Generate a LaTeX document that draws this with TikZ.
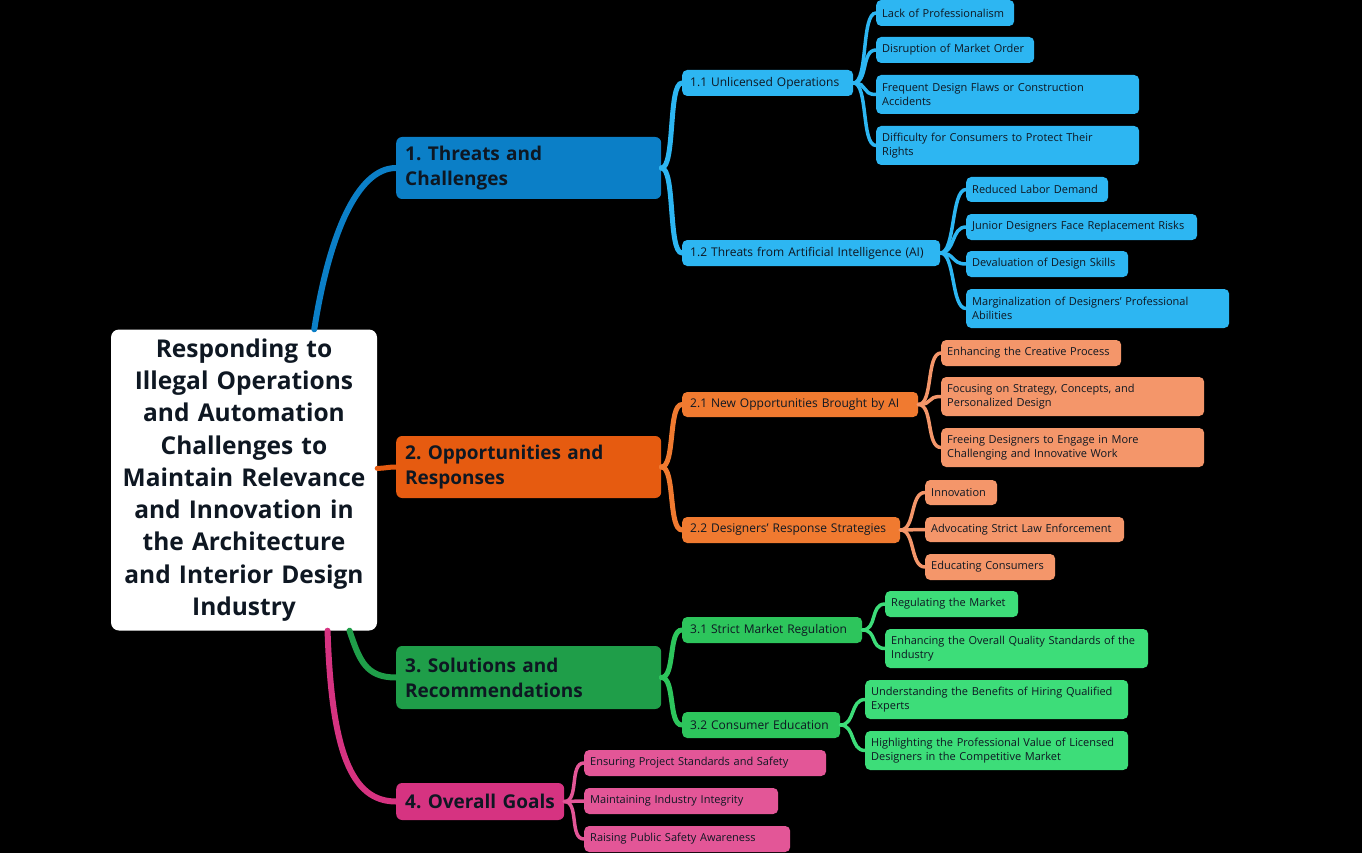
\documentclass[tikz,border=0pt]{standalone}
\usepackage{fontspec}
\setmainfont{Open Sans}
\usetikzlibrary{positioning}
\definecolor{bluedark}{HTML}{0B7FC7}
\definecolor{bluelight}{HTML}{2DB6F2}
\definecolor{orangedark}{HTML}{E65B10}
\definecolor{orangemid}{HTML}{F07A30}
\definecolor{orangelight}{HTML}{F4966A}
\definecolor{greendark}{HTML}{1F9E49}
\definecolor{greenmid}{HTML}{2DC55C}
\definecolor{greenlight}{HTML}{3DDD79}
\definecolor{pinkdark}{HTML}{D63381}
\definecolor{pinklight}{HTML}{E35697}
\definecolor{inkdark}{HTML}{0E1722}

\begin{document}
\frenchspacing
\hyphenpenalty=10000
\begin{tikzpicture}[x=1pt, y=-1pt,
    rootbox/.style={fill=white, rounded corners=8pt, align=center, text=inkdark,
      font=\fontsize{24.5}{32.3}\selectfont\bfseries, inner sep=0pt},
    mainbox/.style={fill=#1, rounded corners=6pt, anchor=west, align=left, text=inkdark,
      inner xsep=9pt, inner ysep=2pt, font=\fontsize{19}{25}\selectfont\bfseries},
    subbox/.style={fill=#1, rounded corners=5pt, anchor=west, align=left, text=inkdark,
      inner xsep=8pt, inner ysep=2pt, minimum height=26pt, font=\fontsize{12}{15}\selectfont},
    leafbox/.style={fill=#1, rounded corners=5pt, anchor=west, align=left, text=inkdark,
      inner xsep=6pt, inner ysep=2pt, minimum height=26pt, font=\fontsize{11}{14}\selectfont},
    tallbox/.style={minimum height=39pt},
    branch/.style={line width=#1, line cap=round}]

  \fill[black] (0,0) rectangle (1362,853);
  \useasboundingbox (0,0) rectangle (1362,853);

  % centre topic
  \node[rootbox, minimum width=266pt, minimum height=301pt, text width=256pt] (root) at (244,480)
    {Responding to\\Illegal Operations\\and Automation\\Challenges to\\Maintain Relevance\\and Innovation in\\the Architecture\\and Interior Design\\Industry};

  % main branches
  \node[mainbox=bluedark, minimum height=62pt, text width=247pt] (threats) at (396,168) {1. Threats and\\Challenges};
  \node[mainbox=orangedark, minimum height=62pt, text width=247pt] (opport) at (396,467) {2. Opportunities and\\Responses};
  \node[mainbox=greendark, minimum height=63pt, text width=247pt] (solut) at (396,677.5) {3. Solutions and\\Recommendations};
  \node[mainbox=pinkdark, minimum height=37pt, text width=150pt] (goals) at (396,801.5) {4. Overall Goals};

  % sub topics
  \node[subbox=bluelight, text width=155pt] (unlic) at (682,83) {1.1 Unlicensed Operations};
  \node[subbox=bluelight, text width=242pt] (aithreat) at (682,253) {1.2 Threats from Artificial Intelligence (AI)};
  \node[subbox=orangemid, minimum height=25pt, text width=220pt] (newopp) at (682,404.5) {2.1 New Opportunities Brought by AI};
  \node[subbox=orangemid, text width=202pt] (respstrat) at (682,530) {2.2 Designers' Response Strategies};
  \node[subbox=greenmid, text width=164pt] (regul) at (682,630) {3.1 Strict Market Regulation};
  \node[subbox=greenmid, text width=142pt] (educ) at (682,725) {3.2 Consumer Education};

  % leaves of 1.1
  \node[leafbox=bluelight, text width=126pt] (prof) at (876,13) {Lack of Professionalism};
  \node[leafbox=bluelight, text width=146pt] (disrupt) at (876,50) {Disruption of Market Order};
  \node[leafbox=bluelight, tallbox, text width=251pt] (flaws) at (876,94.5) {Frequent Design Flaws or Construction\\Accidents};
  \node[leafbox=bluelight, tallbox, text width=251pt] (rights) at (876,145.5) {Difficulty for Consumers to Protect Their\\Rights};

  % leaves of 1.2
  \node[leafbox=bluelight, minimum height=25pt, text width=130pt] (labor) at (966,189.5) {Reduced Labor Demand};
  \node[leafbox=bluelight, text width=219pt] (junior) at (966,227) {Junior Designers Face Replacement Risks};
  \node[leafbox=bluelight, text width=150pt] (devalue) at (966,264) {Devaluation of Design Skills};
  \node[leafbox=bluelight, tallbox, text width=251pt] (margin) at (966,308.5) {Marginalization of Designers' Professional\\Abilities};

  % leaves of 2.1
  \node[leafbox=orangelight, text width=168pt] (creative) at (941,353) {Enhancing the Creative Process};
  \node[leafbox=orangelight, tallbox, text width=251pt] (strategy) at (941,396.5) {Focusing on Strategy, Concepts, and\\Personalized Design};
  \node[leafbox=orangelight, tallbox, text width=251pt] (freeing) at (941,447.5) {Freeing Designers to Engage in More\\Challenging and Innovative Work};

  % leaves of 2.2
  \node[leafbox=orangelight, minimum height=25pt, text width=60pt] (innov) at (925,492.5) {Innovation};
  \node[leafbox=orangelight, minimum height=25pt, text width=187pt] (advocate) at (925,529.5) {Advocating Strict Law Enforcement};
  \node[leafbox=orangelight, text width=118pt] (educons) at (925,567) {Educating Consumers};

  % leaves of 3.1 and 3.2
  \node[leafbox=greenlight, text width=121pt] (market) at (885,604) {Regulating the Market};
  \node[leafbox=greenlight, tallbox, text width=251pt] (quality) at (885,648.5) {Enhancing the Overall Quality Standards of the\\Industry};
  \node[leafbox=greenlight, tallbox, text width=251pt] (benefit) at (865,699.5) {Understanding the Benefits of Hiring Qualified\\Experts};
  \node[leafbox=greenlight, tallbox, text width=251pt] (highlight) at (865,750.5) {Highlighting the Professional Value of Licensed\\Designers in the Competitive Market};

  % leaves of 4
  \node[leafbox=pinklight, text width=230pt] (safety) at (584,763) {Ensuring Project Standards and Safety};
  \node[leafbox=pinklight, text width=182pt] (integr) at (584,801) {Maintaining Industry Integrity};
  \node[leafbox=pinklight, text width=194pt] (aware) at (584,839) {Raising Public Safety Awareness};

  % centre to main branches
  \draw[branch=6pt, bluedark] (root.65) .. controls +(14,-90) and +(-40,0) .. (threats.west);
  \draw[branch=5pt, orangedark] (root.5) .. controls +(8,0) and +(-8,0) .. (opport.west);
  \draw[branch=6pt, greendark] (root.-55) .. controls +(10,30) and +(-30,0) .. (solut.west);
  \draw[branch=6pt, pinkdark] (root.-61) .. controls +(4,120) and +(-45,0) .. (goals.west);

  % main branches to sub topics
  \draw[branch=5pt, bluelight] (threats.east) .. controls +(14,0) and +(-14,0) .. (unlic.west);
  \draw[branch=5pt, bluelight] (threats.east) .. controls +(14,0) and +(-14,0) .. (aithreat.west);
  \draw[branch=5pt, orangemid] (opport.east) .. controls +(14,0) and +(-14,0) .. (newopp.west);
  \draw[branch=5pt, orangemid] (opport.east) .. controls +(14,0) and +(-14,0) .. (respstrat.west);
  \draw[branch=5pt, greenmid] (solut.east) .. controls +(14,0) and +(-14,0) .. (regul.west);
  \draw[branch=5pt, greenmid] (solut.east) .. controls +(14,0) and +(-14,0) .. (educ.west);

  % sub topics to leaves
  \foreach \leaf in {prof,disrupt,flaws,rights}
    \draw[branch=3.5pt, bluelight] (unlic.east) .. controls +(15,0) and +(-15,0) .. (\leaf.west);
  \foreach \leaf in {labor,junior,devalue,margin}
    \draw[branch=3.5pt, bluelight] (aithreat.east) .. controls +(15,0) and +(-15,0) .. (\leaf.west);
  \foreach \leaf in {creative,strategy,freeing}
    \draw[branch=3.5pt, orangelight] (newopp.east) .. controls +(15,0) and +(-15,0) .. (\leaf.west);
  \foreach \leaf in {innov,advocate,educons}
    \draw[branch=3.5pt, orangelight] (respstrat.east) .. controls +(15,0) and +(-15,0) .. (\leaf.west);
  \foreach \leaf in {market,quality}
    \draw[branch=3.5pt, greenlight] (regul.east) .. controls +(15,0) and +(-15,0) .. (\leaf.west);
  \foreach \leaf in {benefit,highlight}
    \draw[branch=3.5pt, greenlight] (educ.east) .. controls +(15,0) and +(-15,0) .. (\leaf.west);
  \foreach \leaf in {safety,integr,aware}
    \draw[branch=3.5pt, pinklight] (goals.east) .. controls +(15,0) and +(-15,0) .. (\leaf.west);
\end{tikzpicture}
\end{document}
